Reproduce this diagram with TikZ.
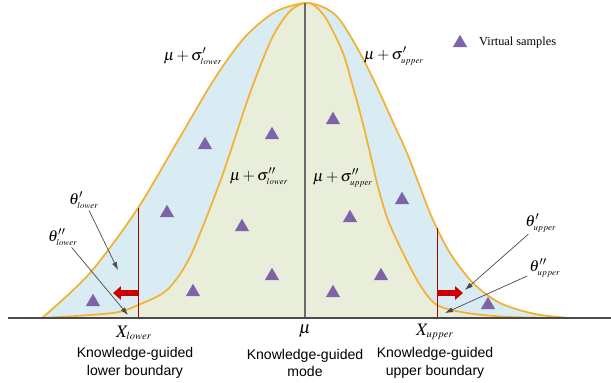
\documentclass[tikz,border=0pt]{standalone}
\usepackage{mathptmx}
\usepackage{fontspec}
\setmainfont{Liberation Serif}
\setsansfont{Liberation Sans}
\usepackage{tikz}
\usetikzlibrary{arrows.meta,shapes.geometric}
\definecolor{himmel}{HTML}{DAECF3}
\definecolor{wiese}{HTML}{E9EEDB}
\definecolor{ocker}{HTML}{F2B233}
\definecolor{lila}{HTML}{7F63A8}
\definecolor{rot}{HTML}{CC0000}
\definecolor{grau}{HTML}{4A4A4A}
\definecolor{hgrau}{HTML}{6B6B6B}
\newcommand{\tief}[1]{_{\scriptscriptstyle #1}}
\tikzset{
  kurve/.style={ocker,line width=1pt},
  ax/.style={grau,line width=0.9pt},
  grenze/.style={rot!80!black,line width=0.5pt},
  schub/.style={-{Triangle[length=4.5pt,width=7.5pt]},rot,line width=3.6pt},
  zeiger/.style={-{Latex[length=4.5pt,width=3pt]},grau,line width=0.4pt},
  probe/.style={regular polygon,regular polygon sides=3,fill=lila,inner sep=0pt,minimum size=0.33cm},
  mlabel/.style={font=\fontsize{9}{10}\selectfont,inner sep=1pt},
  tlabel/.style={font=\sffamily\fontsize{8}{10.2}\selectfont,align=center,inner sep=0pt},
}

\begin{document}
\begin{tikzpicture}
  \useasboundingbox (-6.10,-1.28) rectangle (6.12,6.36);
  % sigma' curve
  \draw[kurve,fill=himmel] plot[smooth] coordinates {(-5.26,0) (-4.30,0.90) (-3.34,2.20)
    (-2.50,3.62) (-1.80,4.80) (-1.20,5.62) (-0.60,6.12) (0,6.30) (0.40,6.20) (0.70,5.96)
    (1.10,5.30) (1.44,4.62) (1.74,3.96) (2.04,3.30) (2.30,2.62) (2.56,1.96) (2.90,1.30)
    (3.36,0.70) (3.90,0.30) (4.60,0.08) (5.30,0)} -- cycle;
  % sigma'' curve
  \draw[kurve,fill=wiese] plot[smooth] coordinates {(-5.26,0) (-3.84,0.10) (-3.34,0.26)
    (-2.76,0.56) (-2.30,1.22) (-1.76,2.56) (-1.50,3.30) (-1.10,4.50) (-0.66,5.60)
    (-0.30,6.14) (0,6.30) (0.20,6.24) (0.44,5.96) (0.76,5.30) (0.96,4.62) (1.14,3.96)
    (1.30,3.30) (1.46,2.62) (1.66,1.96) (1.96,1.30) (2.30,0.66) (2.64,0.26) (3.24,0.10)
    (4.10,0.02) (5.30,0)} -- cycle;
  \draw[hgrau,line width=0.6pt] (0,0) -- (0,6.30);
  % boundaries
  \coordinate (gl) at (-3.34,0);
  \coordinate (glo) at (-3.34,2.20);
  \coordinate (gu) at (2.64,0);
  \coordinate (guo) at (2.64,1.80);
  \draw[grenze] (gl) -- (glo);
  \draw[grenze] (gu) -- (guo);
  \coordinate (sl) at (-3.34,0.50);
  \coordinate (slz) at (-3.84,0.50);
  \coordinate (su) at (2.64,0.50);
  \coordinate (suz) at (3.16,0.50);
  \draw[schub] (sl) -- (slz);
  \draw[schub] (su) -- (suz);
  % virtual samples
  \foreach \px/\py [count=\i] in {-4.24/0.32,-2.76/2.10,-1.26/1.82,-2.24/0.52,-0.66/0.84,
      -2.00/3.46,-0.66/3.66,0.56/3.96,0.90/2.00,1.52/0.84,0.56/0.50,1.94/2.36,3.66/0.26}
    \node[probe] (p\i) at (\px,\py) {};
  \draw[ax] (-5.94,0) -- (6.12,0);
  % curve labels
  \node[mlabel] (sl1) at (-2.24,5.24) {$\mu+\sigma'\tief{lower}$};
  \node[mlabel] (su1) at (1.78,5.24) {$\mu+\sigma'\tief{upper}$};
  \node[mlabel] (sl2) at (-0.92,2.84) {$\mu+\sigma''\tief{lower}$};
  \node[mlabel] (su2) at (0.76,2.80) {$\mu+\sigma''\tief{upper}$};
  % theta pointers
  \node[mlabel] (tl1) at (-4.42,2.36) {$\theta'\tief{lower}$};
  \node[mlabel] (tl2) at (-4.84,1.62) {$\theta''\tief{lower}$};
  \node[mlabel] (tu1) at (4.72,1.90) {$\theta'\tief{upper}$};
  \node[mlabel] (tu2) at (4.80,1.00) {$\theta''\tief{upper}$};
  \coordinate (ql1) at (-3.74,0.96);
  \coordinate (ql2) at (-3.54,0.06);
  \coordinate (qu1) at (3.20,0.56);
  \coordinate (qu2) at (2.80,0.10);
  \draw[zeiger] (tl1) -- (ql1);
  \draw[zeiger] (tl2) -- (ql2);
  \draw[zeiger] (tu1) -- (qu1);
  \draw[zeiger] (tu2) -- (qu2);
  % legend
  \node[probe] (lg) at (3.10,5.50) {};
  \node[anchor=west,font=\fontsize{7}{8}\selectfont] (lgt) at (3.36,5.50) {Virtual samples};
  % axis labels
  \node[mlabel,font=\fontsize{10}{12}\selectfont] (xl) at (-3.42,-0.30) {$X\tief{lower}$};
  \node[mlabel,font=\fontsize{10}{12}\selectfont] (mu) at (0,-0.26) {$\mu$};
  \node[mlabel,font=\fontsize{10}{12}\selectfont] (xu) at (2.60,-0.28) {$X\tief{upper}$};
  \node[tlabel] (kl) at (-3.40,-0.90) {Knowledge-guided\\lower boundary};
  \node[tlabel] (km) at (0,-0.90) {Knowledge-guided\\mode};
  \node[tlabel] (ku) at (2.60,-0.90) {Knowledge-guided\\upper boundary};
\end{tikzpicture}
\end{document}
